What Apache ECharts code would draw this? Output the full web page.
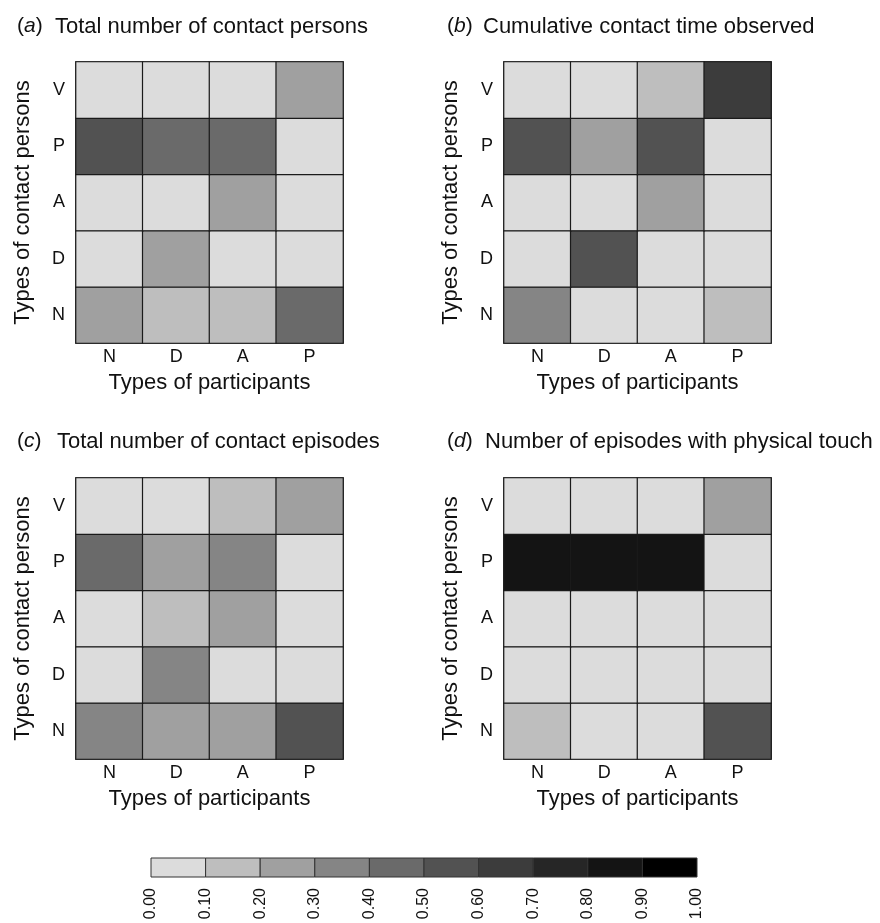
<!DOCTYPE html>
<html>
<head>
<meta charset="utf-8">
<script src="https://cdn.jsdelivr.net/npm/echarts@6/dist/echarts.min.js"></script>
<style>
  html, body { margin: 0; padding: 0; background: #fff; }
  #main { width: 880px; height: 923px; }
</style>
</head>
<body>
<div id="main"></div>
<script>
var participants = ['N', 'D', 'A', 'P'];
var contactTypes = ['N', 'D', 'A', 'P', 'V'];

// rows follow contactTypes (bottom N ... top V), columns follow participants
var contactPersons = [
  [0.25, 0.15, 0.15, 0.45],
  [0.05, 0.25, 0.05, 0.05],
  [0.05, 0.05, 0.25, 0.05],
  [0.55, 0.45, 0.45, 0.05],
  [0.05, 0.05, 0.05, 0.25]
];
var contactTime = [
  [0.35, 0.05, 0.05, 0.15],
  [0.05, 0.55, 0.05, 0.05],
  [0.05, 0.05, 0.25, 0.05],
  [0.55, 0.25, 0.55, 0.05],
  [0.05, 0.05, 0.15, 0.65]
];
var contactEpisodes = [
  [0.35, 0.25, 0.25, 0.55],
  [0.05, 0.35, 0.05, 0.05],
  [0.05, 0.15, 0.25, 0.05],
  [0.45, 0.25, 0.35, 0.05],
  [0.05, 0.05, 0.15, 0.25]
];
var touchEpisodes = [
  [0.15, 0.05, 0.05, 0.55],
  [0.05, 0.05, 0.05, 0.05],
  [0.05, 0.05, 0.05, 0.05],
  [0.85, 0.85, 0.85, 0.05],
  [0.05, 0.05, 0.05, 0.25]
];

var legendTicks = [0, 0.1, 0.2, 0.3, 0.4, 0.5, 0.6, 0.7, 0.8, 0.9, 1.0];
var greys = ['#dcdcdc', '#bebebe', '#a0a0a0', '#858585', '#6a6a6a',
             '#525252', '#3c3c3c', '#262626', '#141414', '#000000'];

var panels = [
  { letter: 'a', title: 'Total number of contact persons', values: contactPersons, left: 76, top: 62, tx: 12, ty: 11, tx2: 50 },
  { letter: 'b', title: 'Cumulative contact time observed', values: contactTime, left: 504, top: 62, tx: 442, ty: 11, tx2: 478 },
  { letter: 'c', title: 'Total number of contact episodes', values: contactEpisodes, left: 76, top: 478, tx: 12, ty: 426, tx2: 52 },
  { letter: 'd', title: 'Number of episodes with physical touch', values: touchEpisodes, left: 504, top: 478, tx: 442, ty: 426, tx2: 480 }
];

var font = 'Liberation Sans, Arial, sans-serif';
var chart = echarts.init(document.getElementById('main'));

var grids = [], xAxes = [], yAxes = [], series = [], titles = [];

panels.forEach(function (p, i) {
  grids.push({ left: p.left, top: p.top, width: 267, height: 281, show: true,
    borderColor: '#1a1a1a', borderWidth: 1.5, backgroundColor: 'transparent' });
  xAxes.push({ type: 'category', gridIndex: i, data: participants,
    axisLine: { show: false }, axisTick: { show: false },
    axisLabel: { fontSize: 18, color: '#111', fontFamily: font, margin: 5 },
    name: 'Types of participants', nameLocation: 'middle', nameGap: 29,
    nameTextStyle: { fontSize: 22, color: '#111', fontFamily: font } });
  yAxes.push({ type: 'category', gridIndex: i, data: contactTypes,
    axisLine: { show: false }, axisTick: { show: false },
    axisLabel: { fontSize: 18, color: '#111', fontFamily: font, margin: 11 },
    name: 'Types of contact persons', nameLocation: 'middle', nameGap: 42,
    nameTextStyle: { fontSize: 22, color: '#111', fontFamily: font } });
  var data = [];
  p.values.forEach(function (row, yi) {
    row.forEach(function (v, xi) { data.push([xi, yi, v]); });
  });
  series.push({ type: 'heatmap', xAxisIndex: i, yAxisIndex: i, data: data,
    itemStyle: { borderColor: '#1a1a1a', borderWidth: 1.2 },
    emphasis: { disabled: true } });
  titles.push({ left: p.tx, top: p.ty, text: '({it|' + p.letter + '})',
    textStyle: { fontSize: 21, fontWeight: 'normal', color: '#111', fontFamily: font,
      rich: { it: { fontSize: 21, fontStyle: 'italic', color: '#111', fontFamily: font } } } });
  titles.push({ left: p.tx2, top: p.ty, text: p.title,
    textStyle: { fontSize: 22, fontWeight: 'normal', color: '#111', fontFamily: font } });
});

// colour bar
grids.push({ left: 151, top: 858, width: 546, height: 19 });
xAxes.push({ type: 'value', gridIndex: 4, min: 0, max: 1, interval: 0.1,
  axisLine: { show: false }, axisTick: { show: false }, splitLine: { show: false },
  axisLabel: { rotate: 90, margin: 11, fontSize: 16, color: '#111', fontFamily: font,
    formatter: function (v) { return v.toFixed(2); } } });
yAxes.push({ type: 'value', gridIndex: 4, min: 0, max: 1, show: false });

var barData = [];
for (var k = 0; k < legendTicks.length - 1; k++) {
  barData.push([legendTicks[k], legendTicks[k + 1], k]);
}
series.push({ type: 'custom', xAxisIndex: 4, yAxisIndex: 4, data: barData,
  renderItem: function (params, api) {
    var s = api.coord([api.value(0), 0]);
    var e = api.coord([api.value(1), 1]);
    return { type: 'rect',
      shape: { x: s[0], y: e[1], width: e[0] - s[0], height: s[1] - e[1] },
      style: { fill: greys[api.value(2)], stroke: '#333', lineWidth: 1 } };
  } });

var pieces = [];
for (var j = 0; j < greys.length; j++) {
  pieces.push({ gte: legendTicks[j], lt: legendTicks[j + 1], color: greys[j] });
}
pieces[pieces.length - 1].lte = 1;
delete pieces[pieces.length - 1].lt;

chart.setOption({
  animation: false,
  textStyle: { fontFamily: font },
  title: titles,
  grid: grids,
  xAxis: xAxes,
  yAxis: yAxes,
  visualMap: { type: 'piecewise', show: false, seriesIndex: [0, 1, 2, 3], dimension: 2, pieces: pieces },
  series: series
});
</script>
</body>
</html>
